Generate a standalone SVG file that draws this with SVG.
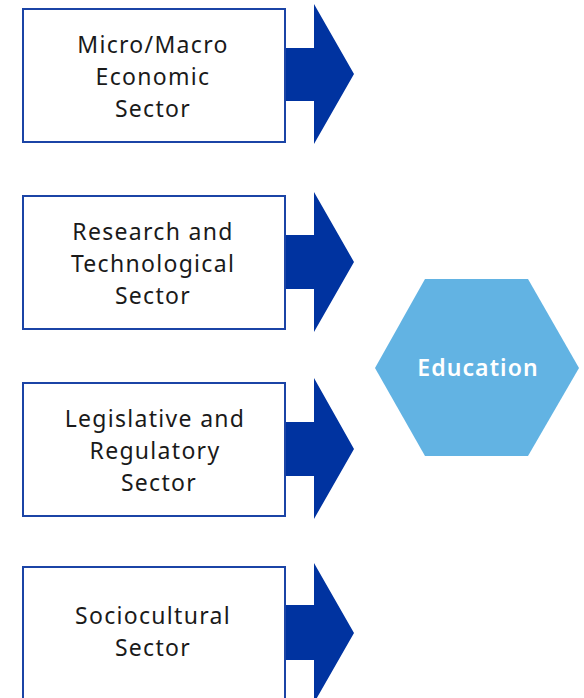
<svg xmlns="http://www.w3.org/2000/svg" width="584" height="698" viewBox="0 0 584 698">
<style>
.box{fill:#fff;stroke:#1b44a6;stroke-width:2}
.arr{fill:#0033a0}
.t{font-family:"Noto Sans","Open Sans",sans-serif;font-size:23px;fill:#1a1a1a;text-anchor:middle;letter-spacing:1.3px}
.hex{fill:#62b3e3}
.ht{font-family:"Noto Sans","Open Sans",sans-serif;font-size:23px;font-weight:600;fill:#fff;text-anchor:middle;letter-spacing:1.1px}
</style>
<g id="connectors">
<polygon class="arr" points="285,48 314,48 314,4 354,74 314,144 314,101 285,101"/>
<polygon class="arr" points="285,235 314,235 314,192 354,262 314,332 314,289 285,289"/>
<polygon class="arr" points="285,422 314,422 314,378 354,449 314,519 314,476 285,476"/>
<polygon class="arr" points="285,605 314,605 314,563 354,633 314,703 314,660 285,660"/>
</g>
<g id="node1">
<rect class="box" x="23" y="9" width="262" height="133"/>
<text class="t" x="153" y="53">Micro/Macro</text>
<text class="t" x="153" y="85">Economic</text>
<text class="t" x="153" y="117">Sector</text>
</g>
<g id="node2">
<rect class="box" x="23" y="196" width="262" height="133"/>
<text class="t" x="153" y="240">Research and</text>
<text class="t" x="153" y="272">Technological</text>
<text class="t" x="153" y="304">Sector</text>
</g>
<g id="node3">
<rect class="box" x="23" y="383" width="262" height="133"/>
<text class="t" x="155" y="427">Legislative and</text>
<text class="t" x="155" y="459">Regulatory</text>
<text class="t" x="159" y="491">Sector</text>
</g>
<g id="node4">
<rect class="box" x="23" y="567" width="262" height="140"/>
<text class="t" x="153" y="624">Sociocultural</text>
<text class="t" x="153" y="656">Sector</text>
</g>
<g id="education">
<polygon class="hex" points="375,368 425,279 528,279 579,368 528,456 425,456"/>
<text class="ht" x="478" y="376">Education</text>
</g>
</svg>
